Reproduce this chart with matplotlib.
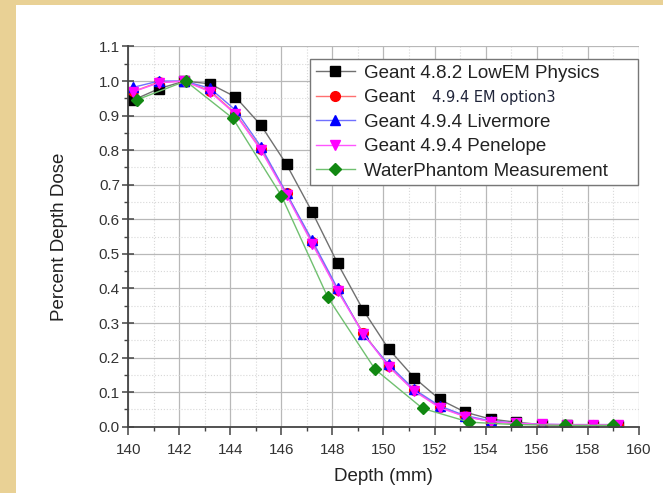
import matplotlib
matplotlib.use('Agg')
import matplotlib.pyplot as plt
from matplotlib.patches import Rectangle
from matplotlib.ticker import MultipleLocator, FormatStrFormatter

plt.rcParams['font.family'] = ['Liberation Sans', 'DejaVu Sans']

# depth (mm) of the simulation points
depth_sim = [140.2, 141.2, 142.2, 143.2, 144.2, 145.2, 146.2, 147.2, 148.2, 149.2,
             150.2, 151.2, 152.2, 153.2, 154.2, 155.2, 156.2, 157.2, 158.2, 159.2]

lowem = [0.945, 0.978, 1.0, 0.992, 0.954, 0.872, 0.759, 0.622, 0.473, 0.338,
         0.225, 0.142, 0.079, 0.042, 0.022, 0.013, 0.006, 0.004, 0.003, 0.003]
emopt3 = [0.970, 0.997, 1.0, 0.972, 0.906, 0.803, 0.675, 0.535, 0.395, 0.272,
          0.175, 0.105, 0.057, 0.030, 0.015, 0.009, 0.006, 0.005, 0.005, 0.005]
livermore = [0.982, 1.0, 1.0, 0.979, 0.916, 0.810, 0.675, 0.540, 0.400, 0.268,
             0.180, 0.108, 0.060, 0.032, 0.017, 0.010, 0.007, 0.006, 0.006, 0.006]
penelope = [0.969, 0.995, 1.0, 0.969, 0.904, 0.800, 0.670, 0.530, 0.393, 0.269,
            0.174, 0.103, 0.055, 0.029, 0.015, 0.010, 0.007, 0.006, 0.006, 0.006]

# water phantom measurement
depth_meas = [140.35, 142.25, 144.1, 146.0, 147.82, 149.67, 151.53, 153.37,
              155.2, 157.1, 159.0]
measured = [0.946, 1.0, 0.892, 0.668, 0.374, 0.166, 0.053, 0.013, 0.006,
            0.004, 0.004]

labels = ['Geant 4.8.2 LowEM Physics', 'Geant', 'Geant 4.9.4 Livermore',
          'Geant 4.9.4 Penelope', 'WaterPhantom Measurement']


def main():
    fig = plt.figure(figsize=(6.63, 4.93), dpi=100)
    fig.patch.set_facecolor('#e9d195')
    # white sheet over the parchment
    fig.patches.append(Rectangle((16 / 663., 0), 1, (493 - 5) / 493.,
                                 transform=fig.transFigure, facecolor='white',
                                 edgecolor='none', zorder=-10))

    ax = fig.add_axes([0.1935, 0.1345, 0.7698, 0.7712])
    ax.set_facecolor('white')

    ax.plot(depth_sim, lowem, '-', color='#707070', lw=1.0, marker='s', ms=7,
            mfc='black', mec='black', label=labels[0])
    ax.plot(depth_sim, emopt3, '-', color='#ff7070', lw=1.0, marker='o', ms=7,
            mfc='red', mec='red', label=labels[1])
    ax.plot(depth_sim, livermore, '-', color='#7070ff', lw=1.0, marker='^', ms=7.5,
            mfc='blue', mec='blue', label=labels[2])
    ax.plot(depth_sim, penelope, '-', color='#ff55ff', lw=1.0, marker='v', ms=7.5,
            mfc='magenta', mec='magenta', label=labels[3])
    ax.plot(depth_meas, measured, '-', color='#70c070', lw=1.0, marker='D', ms=6.5,
            mfc='#118811', mec='#118811', label=labels[4])

    ax.set_xlim(140, 160)
    ax.set_ylim(0, 1.1)
    ax.xaxis.set_major_locator(MultipleLocator(2))
    ax.xaxis.set_minor_locator(MultipleLocator(1))
    ax.yaxis.set_major_locator(MultipleLocator(0.1))
    ax.yaxis.set_minor_locator(MultipleLocator(0.05))
    ax.yaxis.set_major_formatter(FormatStrFormatter('%.1f'))

    ax.set_axisbelow(True)
    ax.grid(which='major', color='#b8b8b8', lw=0.9, ls='-')
    ax.grid(which='minor', color='#d8d8d8', lw=0.8, ls=':')

    for s in ['top', 'right']:
        ax.spines[s].set_visible(False)
    for s in ['left', 'bottom']:
        ax.spines[s].set_color('#444444')
        ax.spines[s].set_linewidth(1.3)

    ax.tick_params(axis='y', which='major', direction='inout', length=8,
                   width=1.1, color='#444444', labelsize=11, labelcolor='#333333', pad=2)
    ax.tick_params(axis='y', which='minor', direction='out', length=3,
                   width=1.0, color='#444444')
    ax.tick_params(axis='x', which='major', direction='out', length=6,
                   width=1.1, color='#444444', labelsize=11, labelcolor='#333333', pad=6)
    ax.tick_params(axis='x', which='minor', direction='out', length=3,
                   width=1.0, color='#444444')

    ax.set_xlabel('Depth (mm)', fontsize=13.5, color='#222222', labelpad=8)
    ax.set_ylabel('Percent Depth Dose', fontsize=13.5, color='#222222', labelpad=22)

    leg = ax.legend(loc='upper left', bbox_to_anchor=(0.356, 0.5, 0.6426, 0.467),
                    mode='expand', borderaxespad=0,
                    fontsize=13.5, fancybox=False, framealpha=1, edgecolor='#777777',
                    handlelength=2.1, handletextpad=0.48, labelspacing=0.39,
                    borderpad=0.3)
    leg.get_frame().set_linewidth(1.0)
    for t in leg.get_texts():
        t.set_color('#222222')

    # the rest of the second label is in a smaller font
    fig.canvas.draw()
    bb = leg.get_texts()[1].get_window_extent()
    W, H = fig.get_size_inches() * fig.dpi
    fig.text((bb.x1 + 17) / W, (bb.y0 + bb.y1) / 2. / H, '4.9.4 EM option3',
             family='DejaVu Sans', fontsize=10.5, color='#20253a', va='center', ha='left')

    plt.savefig('out.png', dpi=100, facecolor=fig.get_facecolor())


if __name__ == '__main__':
    main()
